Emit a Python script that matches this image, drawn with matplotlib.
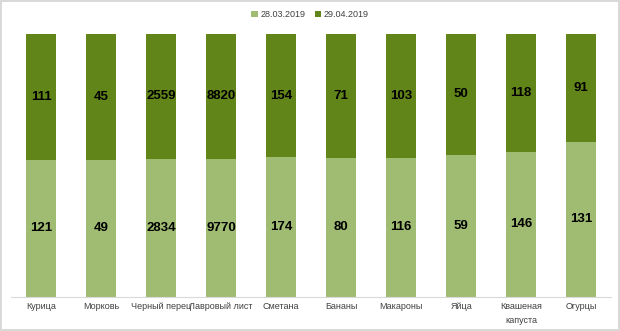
import numpy as np
import matplotlib.pyplot as plt

categories = ["Курица", "Морковь", "Черный перец", "Лавровый лист", "Сметана",
              "Бананы", "Макароны", "Яйца", "Квашеная\nкапуста", "Огурцы"]
march = [121, 49, 2834, 9770, 174, 80, 116, 59, 146, 131]
april = [111, 45, 2559, 8820, 154, 71, 103, 50, 118, 91]

LIGHT = "#A0BC72"
DARK = "#62851A"

plt.rcParams["font.family"] = ["Liberation Sans", "DejaVu Sans"]

march = np.array(march, dtype=float)
april = np.array(april, dtype=float)
total = march + april
share_m = march / total
share_a = april / total

fig = plt.figure(figsize=(6.2, 3.31), dpi=100)
fig.patch.set_edgecolor("#D9D9D9")
fig.patch.set_linewidth(1.5)
ax = fig.add_axes([0.0177, 0.103, 0.968, 0.794])

x = np.arange(len(categories))
b1 = ax.bar(x, share_m, width=0.5, color=LIGHT, label="28.03.2019")
b2 = ax.bar(x, share_a, width=0.5, bottom=share_m, color=DARK, label="29.04.2019")

for i in range(len(categories)):
    ax.text(x[i], share_m[i] / 2, str(int(march[i])), ha="center", va="center",
            fontsize=9.5, fontweight="bold", color="black")
    ax.text(x[i], share_m[i] + share_a[i] / 2, str(int(april[i])), ha="center",
            va="center", fontsize=9.5, fontweight="bold", color="black")

ax.set_xlim(-0.5, len(categories) - 0.5)
ax.set_ylim(0, 1)
ax.set_xticks(x)
ax.set_xticklabels(categories, fontsize=6.5, color="#404040", linespacing=1.7)
ax.tick_params(axis="x", length=0, pad=4)
ax.set_yticks([])
for side in ["top", "left", "right"]:
    ax.spines[side].set_visible(False)
ax.spines["bottom"].set_color("#D9D9D9")

fig.legend(handles=[b1, b2], loc="center", bbox_to_anchor=(0.5, 0.955), ncol=2,
           frameon=False, fontsize=6.5, handlelength=0.7, handleheight=0.7,
           handletextpad=0.3, columnspacing=1.0, labelcolor="#404040")

fig.savefig("out.png", dpi=100)
